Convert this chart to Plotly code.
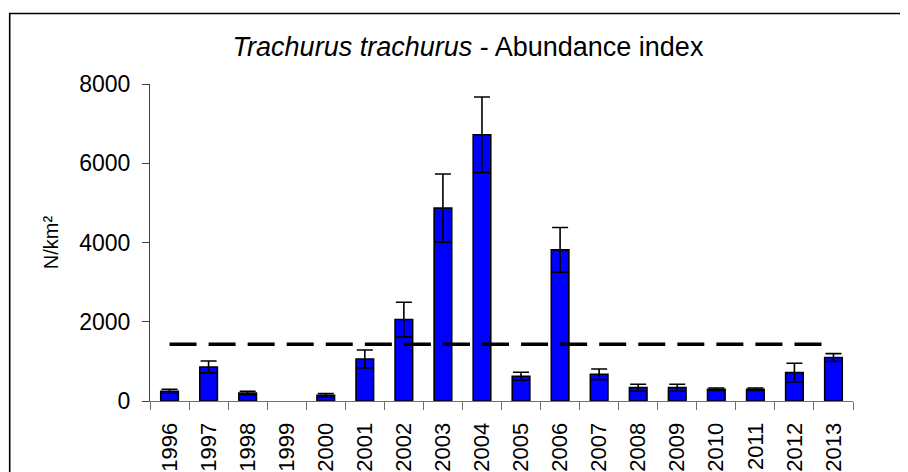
import plotly.graph_objects as go

# ── Data ──────────────────────────────────────────────────────────────────────
years = ["1996", "1997", "1998", "1999", "2000", "2001", "2002", "2003", "2004",
         "2005", "2006", "2007", "2008", "2009", "2010", "2011", "2012", "2013"]
abundance = [245, 859, 202, None, 144, 1061, 2056, 4868, 6719,
             624, 3814, 674, 338, 338, 296, 296, 717, 1096]
error = [50, 150, 45, None, 43, 227, 437, 859, 953,
         101, 565, 134, 84, 84, 32, 32, 235, 100]
mean_level = [1432] * len(years)

FONT = "Arial, Liberation Sans, sans-serif"

# plot area in figure pixels (page adds an 8px body margin)
L, R, T, B = 142, 845, 76, 393
W, H = 908, 472


def px_x(p):
    return (p - L) / (R - L)


def px_y(q):
    return (B - q) / (B - T)


fig = go.Figure()

fig.add_trace(go.Bar(
    x=years, y=abundance,
    marker=dict(color="#0000FF", line=dict(color="#000000", width=1.6)),
    error_y=dict(type="data", array=error, visible=True,
                 color="#000000", thickness=1.6, width=8),
    showlegend=False,
))

# mean line, dash period = one category
fig.add_trace(go.Scatter(
    x=years, y=mean_level, mode="lines",
    line=dict(color="#000000", width=3.5, dash="27px,12.06px"),
    showlegend=False,
))

# chart-area frame (runs past right/bottom edge like the original)
fig.add_shape(type="rect", xref="paper", yref="paper",
              x0=px_x(1.7), x1=px_x(930), y0=px_y(520), y1=px_y(5.5),
              line=dict(color="#000000", width=1.6), layer="below")

fig.update_layout(
    width=W, height=H,
    margin=dict(l=L, r=W - R, t=T, b=H - B, autoexpand=False),
    paper_bgcolor="white", plot_bgcolor="white",
    font=dict(family=FONT, size=22, color="#000000"),
    bargap=0.55,
    title=dict(
        text="<i>Trachurus trachurus</i> - Abundance index",
        font=dict(family=FONT, size=27, color="#000000"),
        xref="container", yref="container",
        x=460 / W, xanchor="center",
        y=1 - 39 / H, yanchor="middle",
    ),
    xaxis=dict(
        type="category", showline=True, linecolor="#707070", linewidth=1,
        ticks="outside", tickson="boundaries", ticklen=8, tickcolor="#707070",
        tickangle=-90, ticklabelstandoff=12,
        showgrid=False, zeroline=False, automargin=False,
        tickfont=dict(family=FONT, size=22, color="#000000"),
    ),
    yaxis=dict(
        range=[0, 8000], tickvals=[0, 2000, 4000, 6000, 8000],
        showline=True, linecolor="#404040", linewidth=1,
        ticks="outside", ticklen=7, tickcolor="#404040", ticklabelstandoff=7,
        showgrid=False, zeroline=False, automargin=False,
        tickfont=dict(family=FONT, size=23, color="#000000"),
        title=dict(text="N/km²", standoff=15,
                   font=dict(family=FONT, size=20, color="#000000")),
    ),
)

fig.write_html("out.html")
